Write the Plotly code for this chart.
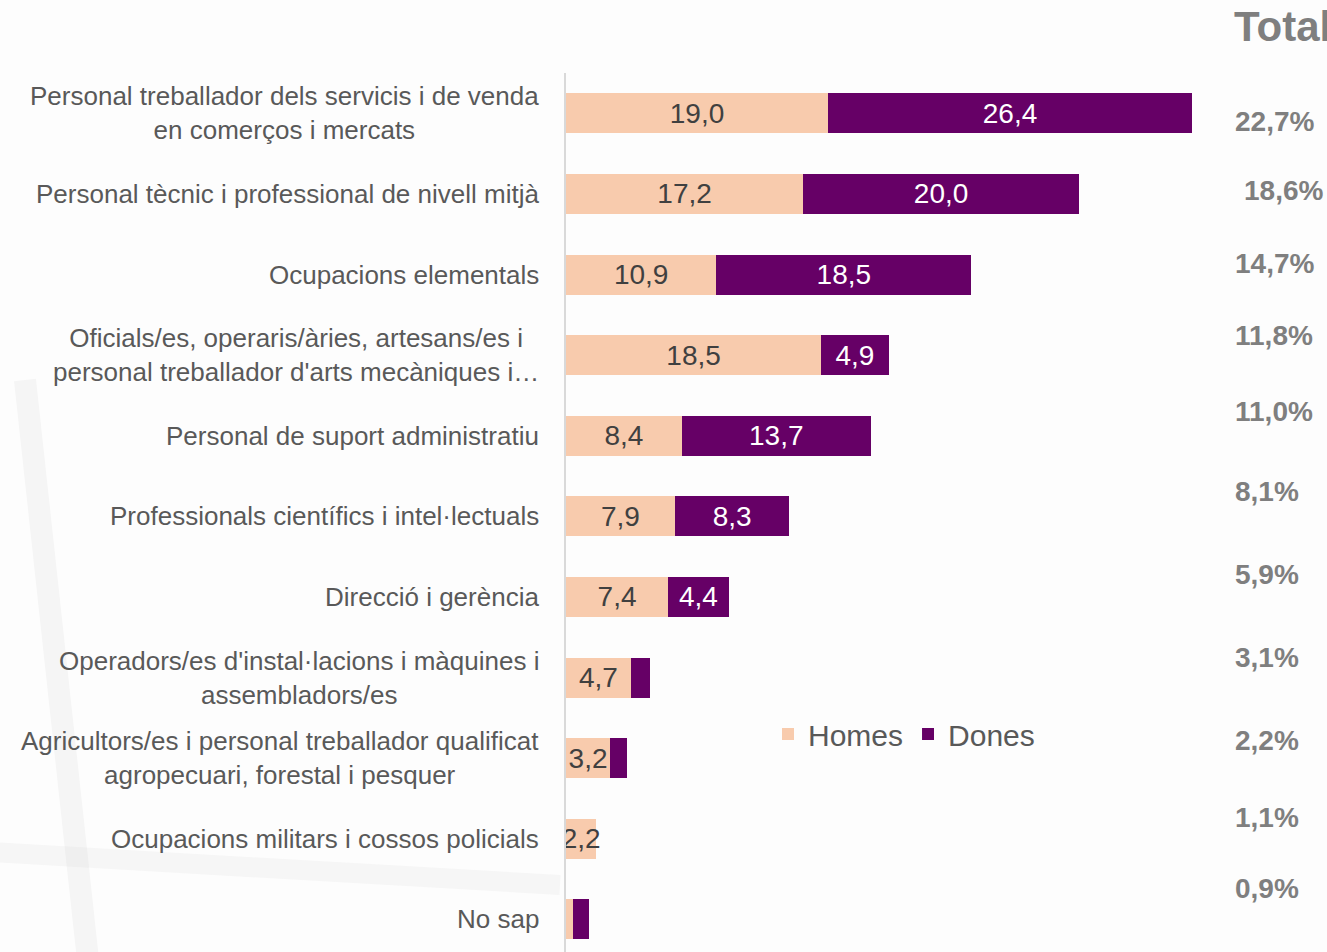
import plotly.graph_objects as go

# ---------------- data ----------------
categories = [
    "Personal treballador dels servicis i de venda<br>en comerços i mercats",
    "Personal tècnic i professional de nivell mitjà",
    "Ocupacions elementals",
    "Oficials/es, operaris/àries, artesans/es i<br>personal treballador d'arts mecàniques i…",
    "Personal de suport administratiu",
    "Professionals científics i intel·lectuals",
    "Direcció i gerència",
    "Operadors/es d'instal·lacions i màquines i<br>assembladors/es",
    "Agricultors/es i personal treballador qualificat<br>agropecuari, forestal i pesquer",
    "Ocupacions militars i cossos policials",
    "No sap",
]
homes = [19.0, 17.2, 10.9, 18.5, 8.4, 7.9, 7.4, 4.7, 3.2, 2.2, 0.5]
dones = [26.4, 20.0, 18.5, 4.9, 13.7, 8.3, 4.4, 1.4, 1.2, 0.0, 1.2]
totals = ["22,7%", "18,6%", "14,7%", "11,8%", "11,0%", "8,1%", "5,9%", "3,1%", "2,2%", "1,1%", "0,9%"]
series_names = ["Homes", "Dones"]

# ---------------- layout geometry ----------------
W, H = 1327, 952
ML, MR, MT, MB = 566, 0, 73, 0
PW, PH = W - ML - MR, H - MT - MB
PX_PER_UNIT = 13.79
ROW_PX = 80.6

def px_x(px):
    return (px - ML) / PW

def px_y(py):
    return (H - MB - py) / PH

def fmt(v):
    return f"{v:.1f}".replace(".", ",")

homes_text = [fmt(v) if v >= 2 else "" for v in homes]
dones_text = [fmt(v) if v >= 2 else "" for v in dones]

ids = list(range(len(categories)))

fig = go.Figure()
fig.add_trace(go.Bar(
    y=ids, x=homes, orientation="h", name=series_names[0],
    marker=dict(color="#F8CBAD", line=dict(width=0)),
    text=homes_text, textposition="inside", insidetextanchor="middle",
    constraintext="none", textangle=0,
    textfont=dict(family="Liberation Sans, Arial", size=28, color="#404040"),
    hoverinfo="skip",
))
fig.add_trace(go.Bar(
    y=ids, x=dones, orientation="h", name=series_names[1],
    marker=dict(color="#660066", line=dict(width=0)),
    text=dones_text, textposition="inside", insidetextanchor="middle",
    constraintext="none", textangle=0,
    textfont=dict(family="Liberation Sans, Arial", size=28, color="#FFFFFF"),
    hoverinfo="skip",
))

annotations = []
# category labels
for i, c in enumerate(categories):
    annotations.append(dict(
        x=px_x(541), xref="paper", y=i, yref="y",
        text=c, showarrow=False, xanchor="right", yanchor="middle", align="center",
        font=dict(family="Liberation Sans, Arial", size=26, color="#595959"),
    ))

# Total column
annotations.append(dict(
    x=px_x(1232), xref="paper", y=px_y(27), yref="paper", text="<b>Total</b>",
    showarrow=False, xanchor="left", yanchor="middle",
    font=dict(family="Liberation Sans, Arial", size=42, color="#7F7F7F"),
))
total_px_y = [121, 190, 263, 335, 411, 491, 574, 657, 740, 817, 888]
total_px_x = [1233, 1242, 1233, 1233, 1233, 1233, 1233, 1233, 1233, 1233, 1233]
for t, tx, ty in zip(totals, total_px_x, total_px_y):
    annotations.append(dict(
        x=px_x(tx), xref="paper", y=px_y(ty), yref="paper", text=f"<b>{t}</b>",
        showarrow=False, xanchor="left", yanchor="middle",
        font=dict(family="Liberation Sans, Arial", size=28, color="#7F7F7F"),
    ))

# faint background reflection
shapes = [
    dict(type="line", xref="paper", yref="paper",
         x0=px_x(25), y0=px_y(380), x1=px_x(88), y1=px_y(960),
         line=dict(color="rgba(190,190,190,0.12)", width=22), layer="below"),
    dict(type="line", xref="paper", yref="paper",
         x0=px_x(-10), y0=px_y(852), x1=px_x(560), y1=px_y(885),
         line=dict(color="rgba(190,190,190,0.10)", width=20), layer="below"),
]

fig.update_layout(
    width=W, height=H, autosize=False,
    margin=dict(l=ML, r=MR, t=MT, b=MB, pad=0),
    barmode="stack", bargap=1 - 40 / ROW_PX,
    paper_bgcolor="#FDFDFD", plot_bgcolor="rgba(0,0,0,0)",
    separators=",.",
    font=dict(family="Liberation Sans, Arial", color="#595959"),
    xaxis=dict(range=[0, PW / PX_PER_UNIT], visible=False, fixedrange=True),
    yaxis=dict(range=[-0.5 + PH / ROW_PX, -0.5], showticklabels=False, ticks="",
               showgrid=False, zeroline=False, showline=True,
               linecolor="#D9D9D9", linewidth=2, fixedrange=True),
    legend=dict(orientation="h", x=px_x(768), xanchor="left", y=px_y(734), yanchor="middle",
                font=dict(family="Liberation Sans, Arial", size=30, color="#595959"),
                bgcolor="rgba(0,0,0,0)", itemwidth=30, traceorder="normal"),
    annotations=annotations,
    shapes=shapes,
    showlegend=True,
)

fig.write_html("out.html", config={"displayModeBar": False},
               post_script="document.body.style.margin='0';document.body.style.overflow='hidden';")
